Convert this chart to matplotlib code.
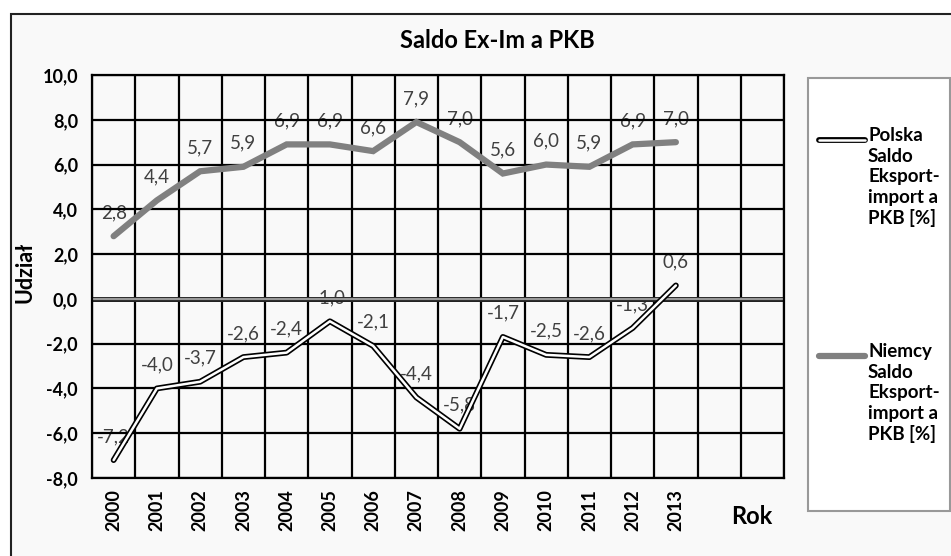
import matplotlib.pyplot as plt
from matplotlib.patches import Rectangle
from matplotlib.lines import Line2D

years = ['2000', '2001', '2002', '2003', '2004', '2005', '2006',
         '2007', '2008', '2009', '2010', '2011', '2012', '2013']
polska = [-7.2, -4.0, -3.7, -2.6, -2.4, -1.0, -2.1, -4.4, -5.8, -1.7, -2.5, -2.6, -1.3, 0.6]
niemcy = [2.8, 4.4, 5.7, 5.9, 6.9, 6.9, 6.6, 7.9, 7.0, 5.6, 6.0, 5.9, 6.9, 7.0]
series_names = ['Polska\nSaldo\nEksport-\nimport a\nPKB [%]',
                'Niemcy\nSaldo\nEksport-\nimport a\nPKB [%]']
n_cats = 16  # two empty categories after 2013

plt.rcParams['font.family'] = ['Lato', 'DejaVu Sans']

W, H = 951, 556
fig = plt.figure(figsize=(W / 100, H / 100), dpi=100)
fig.patch.set_facecolor('white')

def fx(px):
    return px / W

def fy(py):
    return 1 - py / H

# outer chart frame
fig.patches.append(Rectangle((fx(11), fy(620)), 1.2, fy(14) - fy(620),
                             transform=fig.transFigure, facecolor='#f9f9f9',
                             edgecolor='#222222', lw=1.5, zorder=-5))

ax = fig.add_axes([fx(92), fy(478), fx(784) - fx(92), fy(75) - fy(478)])
ax.set_zorder(3)
ax.set_facecolor('#f9f9f9')
ax.set_xlim(-0.5, n_cats - 0.5)
ax.set_ylim(-8, 10)

# grid
for v in range(-8, 11, 2):
    if v != 0:
        ax.axhline(v, color='black', lw=1.6, zorder=2)
for i in range(n_cats + 1):
    ax.axvline(i - 0.5, color='black', lw=1.6, zorder=2)
ax.axhline(0, color='#222222', lw=3.6, zorder=2)
ax.axhline(0, color='#999999', lw=1.6, zorder=2.1)

x = list(range(len(years)))
ax.plot(x, niemcy, color='#808080', lw=4.5, solid_capstyle='round',
        solid_joinstyle='miter', zorder=4)
ax.plot(x, polska, color='black', lw=4.2, solid_capstyle='round', zorder=4)
ax.plot(x, polska, color='white', lw=1.8, solid_capstyle='round', zorder=4.1)

for series in (niemcy, polska):
    for xi, v in zip(x, series):
        ax.annotate(f'{v:.1f}'.replace('.', ','), (xi, v), xytext=(0, 17),
                    textcoords='offset points', ha='center', va='center',
                    fontsize=13.5, color='#404040', zorder=1.5)

ax.set_xticks(x)
ax.set_xticklabels(years, rotation=90, fontsize=13, fontweight='bold')
yt = list(range(-8, 11, 2))
ax.set_yticks(yt)
ax.set_yticklabels([f'{v:.1f}'.replace('.', ',') for v in yt], fontsize=13, fontweight='bold')
ax.tick_params(length=0, pad=8)
ax.tick_params(axis='y', pad=10)
for s in ax.spines.values():
    s.set_linewidth(1.6)

fig.text(fx(497), fy(40), 'Saldo Ex-Im a PKB', ha='center', va='center',
         fontsize=17, fontweight='bold')
fig.text(fx(25), fy(272), 'Udział', rotation=90, ha='center', va='center',
         fontsize=15.5, fontweight='bold')
fig.text(fx(752), fy(516), 'Rok', ha='center', va='center',
         fontsize=17, fontweight='bold')

# legend box
fig.patches.append(Rectangle((fx(808), fy(511)), fx(950) - fx(808), fy(78) - fy(511),
                             transform=fig.transFigure, facecolor='white',
                             edgecolor='#999999', lw=1.5, zorder=1))
ly = [140, 356]
fig.add_artist(Line2D([fx(819), fx(865)], [fy(ly[0])] * 2, color='black', lw=4.2,
                      solid_capstyle='round', transform=fig.transFigure))
fig.add_artist(Line2D([fx(819), fx(865)], [fy(ly[0])] * 2, color='white', lw=1.8,
                      solid_capstyle='round', transform=fig.transFigure))
fig.add_artist(Line2D([fx(819), fx(865)], [fy(ly[1])] * 2, color='#808080', lw=4.5,
                      solid_capstyle='round', transform=fig.transFigure))
for name, yy in zip(series_names, ly):
    fig.text(fx(868), fy(yy - 13), name, ha='left', va='top', fontsize=13.5,
             fontweight='bold', linespacing=1.25)

fig.savefig('out.png', dpi=100)
